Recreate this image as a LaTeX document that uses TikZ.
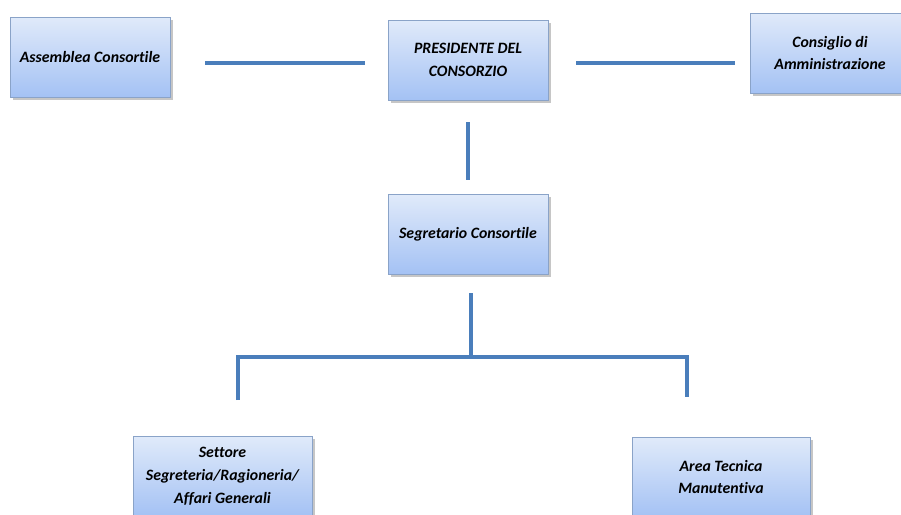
\documentclass[tikz,border=0pt]{standalone}
\usepackage{fontspec}
\setmainfont{Carlito}[Ligatures=CommonOff]
\usetikzlibrary{shadows}
\definecolor{boxtop}{HTML}{E0EAFA}
\definecolor{boxbottom}{HTML}{A4C2F4}
\definecolor{boxborder}{HTML}{8AA3C8}
\definecolor{linkblue}{HTML}{4A7EBB}
\tikzset{
office/.style={draw=boxborder, thin, top color=boxtop, bottom color=boxbottom, % gradient fill of the boxes
  minimum width=3.2cm, minimum height=1.6cm, align=center,
  font=\fontsize{9}{13}\selectfont\bfseries\itshape,
  drop shadow={shadow xshift=1.5pt, shadow yshift=-1.5pt, opacity=0.45}},
link/.style={draw=linkblue, line width=2pt}, % the blue connecting lines
}

\begin{document}
\begin{tikzpicture}[x=0.02cm, y=-0.02cm]% one unit is one pixel of the reference
  \useasboundingbox (0,0) rectangle (901,514);
  \clip (0,0) rectangle (901,514);

  \node[office] (assemblea) at (90,57) {Assemblea Consortile};
  \node[office] (presidente) at (468,60) {PRESIDENTE DEL\\CONSORZIO};
  \node[office] (consiglio) at (830,53) {Consiglio di\\Amministrazione};
  \node[office] (segretario) at (468,234) {Segretario Consortile};
  \node[office, minimum width=3.58cm] (settore) at (222.5,476) {Settore\\Segreteria/Ragioneria/\\Affari Generali};
  \node[office, minimum width=3.56cm] (area) at (721,477) {Area Tecnica\\Manutentiva};

  % free ends of the lines, which stop short of the boxes
  \coordinate (ap1) at (205,63);
  \coordinate (ap2) at (365,63);
  \coordinate (pc1) at (576,63);
  \coordinate (pc2) at (735,63);
  \coordinate (ps1) at (468,122);
  \coordinate (ps2) at (468,180);
  \coordinate (stem) at (471,293);
  \coordinate (fork) at (471,357);
  \coordinate (dropl) at (238,400);
  \coordinate (dropr) at (687,397);

  \draw[link] (ap1) -- (ap2);
  \draw[link] (pc1) -- (pc2);
  \draw[link] (ps1) -- (ps2);
  \draw[link] (stem) -- (fork);
  \draw[link] (dropl) |- (fork) -| (dropr);
\end{tikzpicture}
\end{document}
